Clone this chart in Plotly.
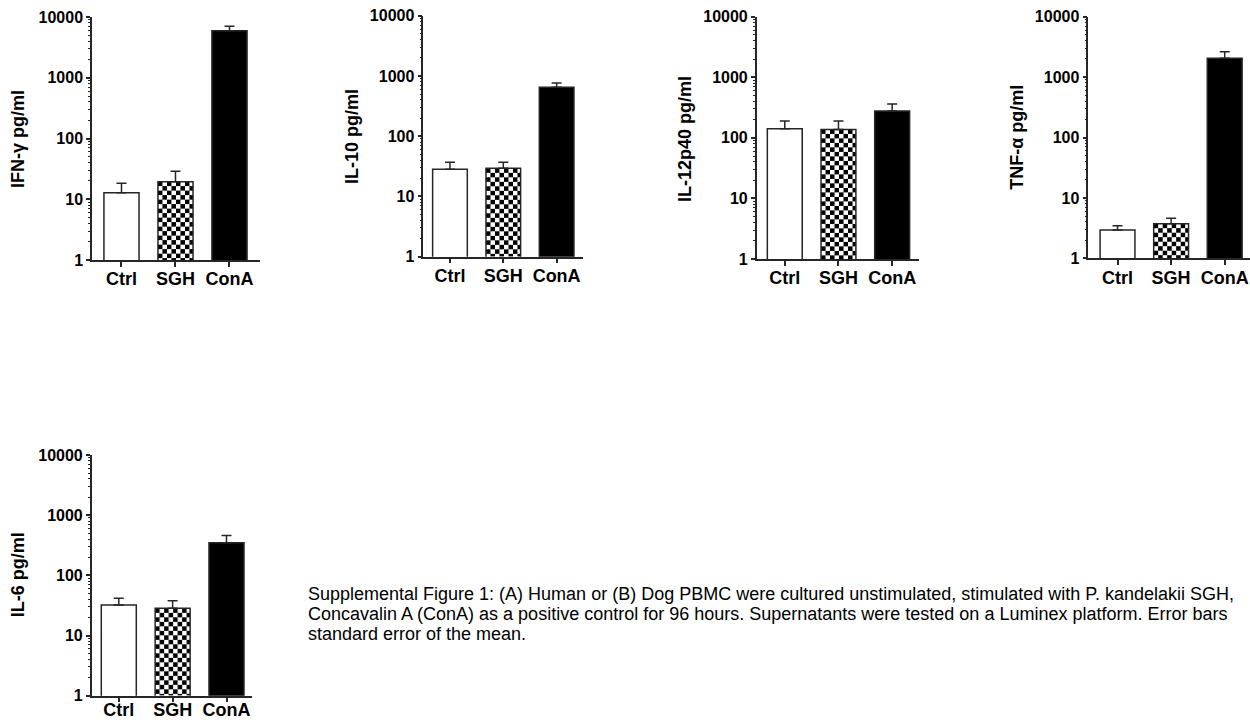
import base64
import math
import plotly.graph_objects as go

# ---------------- data ----------------
groups = ["Ctrl", "SGH", "ConA"]
axis_titles = ["IFN-γ pg/ml", "IL-10 pg/ml", "IL-12p40 pg/ml", "TNF-α pg/ml", "IL-6 pg/ml"]

ifng_mean = [12.8, 19.5, 5950]
ifng_sem = [5.5, 9.5, 1070]
il10_mean = [28.2, 29.3, 648]
il10_sem = [8.7, 7.6, 116]
il12_mean = [141, 138, 277]
il12_sem = [48, 52, 84]
tnfa_mean = [2.94, 3.74, 2047]
tnfa_sem = [0.53, 0.85, 583]
il6_mean = [32.1, 28.3, 348]
il6_sem = [9.4, 9.5, 113]

y_tick_vals = [1, 10, 100, 1000, 10000]
y_tick_text = ["1", "10", "100", "1000", "10000"]

caption_lines = [
    "Supplemental Figure 1: (A) Human or (B) Dog PBMC were cultured unstimulated, stimulated with P. kandelakii SGH,",
    "Concavalin A (ConA) as a positive control for 96 hours. Supernatants were tested on a Luminex platform. Error bars",
    "standard error of the mean.",
]

means = [ifng_mean, il10_mean, il12_mean, tnfa_mean, il6_mean]
sems = [ifng_sem, il10_sem, il12_sem, tnfa_sem, il6_sem]

# ---------------- layout / style ----------------
W, H = 1250, 722
# (x0, x1, ytop, ybottom) in px, x range, title centre (px), x label standoff
panels = [
    dict(dom=(92, 260, 17, 260), xr=(-0.546, 2.565), title=(18, 139), lab=-3),
    dict(dom=(423.3, 583.3, 15.7, 256.7), xr=(-0.5, 2.5), title=(352, 137), lab=-3),
    dict(dom=(756.7, 919, 16.7, 259), xr=(-0.523, 2.5), title=(685, 139), lab=-3),
    dict(dom=(1088.3, 1250, 16.7, 258.3), xr=(-0.545, 2.472), title=(1016.7, 137), lab=-3),
    dict(dom=(91.7, 251.7, 455, 695.7), xr=(-0.503, 2.468), title=(18.3, 575), lab=-8),
]
BAR_W = 0.65
LINE_C = "#262626"
FONT = "Arial, 'Liberation Sans', sans-serif"
bar_fills = ["white", "rgba(0,0,0,0)", "black"]

checker_svg = (
    '<svg xmlns="http://www.w3.org/2000/svg">'
    '<defs><pattern id="p" width="9" height="9" patternUnits="userSpaceOnUse">'
    '<rect width="9" height="9" fill="white"/>'
    '<rect width="4.5" height="4.5" fill="black"/>'
    '<rect x="4.5" y="4.5" width="4.5" height="4.5" fill="black"/>'
    '</pattern></defs>'
    '<rect width="100%" height="100%" fill="url(#p)"/></svg>'
)
checker_src = "data:image/svg+xml;base64," + base64.b64encode(checker_svg.encode()).decode()

minor_vals = [m * 10 ** k for k in range(4) for m in range(2, 10)]
xpos = list(range(len(groups)))

fig = go.Figure()
layout = {}
images = []
annotations = []

for i, p in enumerate(panels):
    n = "" if i == 0 else str(i + 1)
    xa, ya = "x" + n, "y" + n
    x0, x1, yt, yb = p["dom"]
    fig.add_trace(go.Bar(
        x=xpos, y=means[i], width=BAR_W,
        marker=dict(color=bar_fills, line=dict(color=LINE_C, width=1.5)),
        error_y=dict(type="data", symmetric=False, array=sems[i],
                     arrayminus=[0] * len(groups), color=LINE_C,
                     thickness=1.5, width=5),
        xaxis=xa, yaxis=ya, showlegend=False, hoverinfo="skip",
    ))
    layout["xaxis" + n] = dict(
        domain=[x0 / W, x1 / W], anchor=ya, range=list(p["xr"]),
        tickmode="array", tickvals=xpos, ticktext=groups,
        ticks="outside", ticklen=5, tickwidth=1.5, tickcolor=LINE_C,
        ticklabelstandoff=p["lab"],
        showline=True, linecolor=LINE_C, linewidth=1.5,
        showgrid=False, zeroline=False, fixedrange=True,
        tickfont=dict(family=FONT, size=18, color="black", weight="bold"),
    )
    layout["yaxis" + n] = dict(
        domain=[1 - yb / H, 1 - yt / H], anchor=xa, type="log", range=[0, 4],
        tickmode="array", tickvals=y_tick_vals, ticktext=y_tick_text,
        ticks="outside", ticklen=4, tickwidth=1.5, tickcolor=LINE_C,
        minor=dict(tickmode="array", tickvals=minor_vals, ticks="outside",
                   ticklen=2, tickwidth=1, tickcolor=LINE_C),
        showline=True, linecolor=LINE_C, linewidth=1.5,
        showgrid=False, zeroline=False, fixedrange=True,
        tickfont=dict(family=FONT, size=16, color="black", weight="bold"),
    )
    # checkerboard fill for the SGH bar, placed through the axes
    sgh = groups.index("SGH")
    top = math.log10(means[i][sgh])
    images.append(dict(
        source=checker_src, xref=xa, yref=ya,
        x=sgh - BAR_W / 2, y=top, sizex=BAR_W, sizey=top - 0,
        xanchor="left", yanchor="top", sizing="stretch", layer="below",
    ))
    tx, ty = p["title"]
    annotations.append(dict(
        text=axis_titles[i], xref="paper", yref="paper",
        x=tx / W, y=1 - ty / H, xanchor="center", yanchor="middle",
        textangle=-90, showarrow=False,
        font=dict(family=FONT, size=18, color="black", weight="bold"),
    ))

for k, line in enumerate(caption_lines):
    annotations.append(dict(
        text=line, xref="paper", yref="paper",
        x=306 / W, y=1 - (593.5 + 20 * k) / H, xanchor="left", yanchor="middle",
        showarrow=False, font=dict(family=FONT, size=18, color="black"),
    ))

fig.update_layout(
    width=W, height=H, margin=dict(l=0, r=0, t=0, b=0),
    template="none", paper_bgcolor="white", plot_bgcolor="white",
    showlegend=False, images=images, annotations=annotations,
    **layout,
)

fig.write_html(
    "out.html",
    config={"displayModeBar": False, "responsive": False},
    post_script="document.body.style.margin='0';",
)
